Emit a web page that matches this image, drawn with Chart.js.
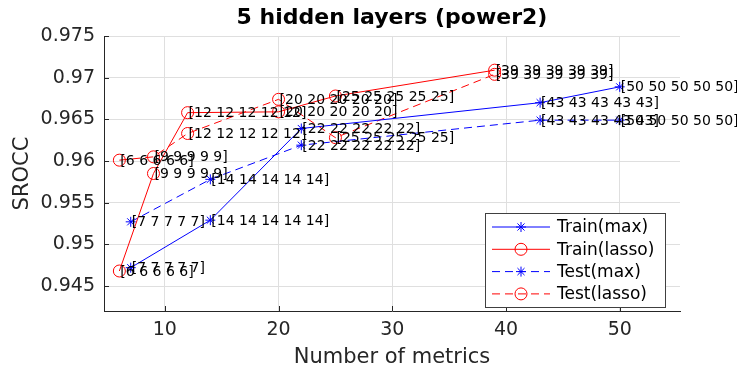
<!DOCTYPE html>
<html>
<head>
<meta charset="utf-8">
<script src="https://cdn.jsdelivr.net/npm/chart.js@4.4.1/dist/chart.umd.min.js"></script>
<style>
html,body{margin:0;padding:0;background:#fff;}
</style>
</head>
<body>
<canvas id="chart" width="737" height="372"></canvas>
<script>
// ---------- DATA ----------
const titleText = "5 hidden layers (power2)";
const xTitle = "Number of metrics";
const yTitle = "SROCC";
const seriesNames = ["Train(max)", "Train(lasso)", "Test(max)", "Test(lasso)"];

const maxX   = [7, 14, 22, 43, 50];
const lassoX = [6, 9, 12, 20, 25, 39];

const trainMax   = [0.9472, 0.9529, 0.9639, 0.9670, 0.9689];
const trainLasso = [0.9468, 0.9585, 0.9658, 0.9659, 0.9678, 0.9709];
const testMax    = [0.9527, 0.9578, 0.9619, 0.9649, 0.9649];
const testLasso  = [0.9601, 0.9605, 0.9633, 0.9674, 0.9628, 0.9704];

const xTicks = [10, 20, 30, 40, 50];
const yTicks = [0.945, 0.95, 0.955, 0.96, 0.965, 0.97, 0.975];
const yTickLabels = ["0.945", "0.95", "0.955", "0.96", "0.965", "0.97", "0.975"];

// ---------- HELPERS ----------
const FONT = '"DejaVu Sans", sans-serif';
const AXIS = "#262626";
Chart.defaults.font.family = FONT;

function pts(xs, ys){
    return xs.map((x,i)=>({x:x, y:ys[i]}));
}

function series(name, xs, ys, color, dashed, marker){
    return {
        label:name,
        data:pts(xs, ys),
        showLine:true,
        borderColor:color,
        borderWidth:1,
        borderDash:dashed ? [8,5] : [],
        pointStyle:marker,
        pointRadius:marker === "star" ? 5 : 6,
        pointBorderColor:color,
        pointBackgroundColor:"rgba(0,0,0,0)",
        pointBorderWidth:1,
        tension:0
    };
}

function drawMarker(ctx, style, x, y, color){
    ctx.strokeStyle = color;
    ctx.lineWidth = 1;
    ctx.setLineDash([]);
    ctx.beginPath();
    if(style === "star"){
        const r = 5;
        for(let k=0;k<4;k++){
            const a = k*Math.PI/4;
            ctx.moveTo(x - r*Math.cos(a), y - r*Math.sin(a));
            ctx.lineTo(x + r*Math.cos(a), y + r*Math.sin(a));
        }
    }else{
        ctx.arc(x, y, 6, 0, Math.PI*2);
    }
    ctx.stroke();
}

// ---------- PLUGINS ----------
// title centred over the plot area (matlab style)
const plotTitle = {
    id:"plotTitle",
    afterDraw(chart){
        const {ctx, chartArea:a} = chart;
        ctx.save();
        ctx.font = "bold 22px " + FONT;
        ctx.fillStyle = "#000";
        ctx.textAlign = "center";
        ctx.textBaseline = "middle";
        ctx.fillText(titleText, (a.left + a.right)/2, a.top - 18);
        ctx.restore();
    }
};

// ticks pointing inwards
const innerTicks = {
    id:"innerTicks",
    beforeDatasetsDraw(chart){
        const {ctx, chartArea:a, scales} = chart;
        ctx.save();
        ctx.strokeStyle = AXIS;
        ctx.lineWidth = 1;
        ctx.beginPath();
        xTicks.forEach(v=>{
            const px = Math.round(scales.x.getPixelForValue(v)) + 0.5;
            ctx.moveTo(px, a.bottom);
            ctx.lineTo(px, a.bottom - 5);
        });
        yTicks.forEach(v=>{
            const py = Math.round(scales.y.getPixelForValue(v)) + 0.5;
            ctx.moveTo(a.left, py);
            ctx.lineTo(a.left + 5, py);
        });
        ctx.stroke();
        ctx.restore();
    }
};

// "[n n n n n]" text next to every point
const pointLabels = {
    id:"pointLabels",
    afterDatasetsDraw(chart){
        const ctx = chart.ctx;
        ctx.save();
        ctx.font = "14px " + FONT;
        ctx.fillStyle = "#000";
        ctx.textAlign = "left";
        ctx.textBaseline = "middle";
        chart.data.datasets.forEach((ds, di)=>{
            chart.getDatasetMeta(di).data.forEach((el, i)=>{
                const n = ds.data[i].x;
                ctx.fillText("[" + [n,n,n,n,n].join(" ") + "]", el.x + 1, el.y + 1);
            });
        });
        ctx.restore();
    }
};

// legend box in the lower right corner
const boxLegend = {
    id:"boxLegend",
    afterDraw(chart){
        const {ctx, chartArea:a} = chart;
        const w = 180, h = 94;
        const left = a.right - 15 - w;
        const top = a.bottom - 4 - h;
        ctx.save();
        ctx.fillStyle = "#fff";
        ctx.fillRect(left, top, w, h);
        ctx.strokeStyle = "#404040";
        ctx.lineWidth = 1;
        ctx.strokeRect(Math.round(left) + 0.5, Math.round(top) + 0.5, w, h);
        ctx.font = "17px " + FONT;
        ctx.textBaseline = "middle";
        ctx.textAlign = "left";
        chart.data.datasets.forEach((ds, i)=>{
            const y = top + 14 + i*22.3;
            ctx.strokeStyle = ds.borderColor;
            ctx.lineWidth = 1;
            ctx.setLineDash(ds.borderDash);
            ctx.beginPath();
            ctx.moveTo(left + 7, y);
            ctx.lineTo(left + 65, y);
            ctx.stroke();
            drawMarker(ctx, ds.pointStyle, left + 36, y, ds.borderColor);
            ctx.fillStyle = "#000";
            ctx.fillText(ds.label, left + 72, y + 1);
        });
        ctx.restore();
    }
};

// ---------- CHART ----------
new Chart(document.getElementById("chart"), {
    type:"scatter",
    data:{
        datasets:[
            series(seriesNames[0], maxX, trainMax, "#0000ff", false, "star"),
            series(seriesNames[1], lassoX, trainLasso, "#ff0000", false, "circle"),
            series(seriesNames[2], maxX, testMax, "#0000ff", true, "star"),
            series(seriesNames[3], lassoX, testLasso, "#ff0000", true, "circle")
        ]
    },
    options:{
        responsive:false,
        animation:false,
        devicePixelRatio:1,
        layout:{ padding:{ left:0, right:57, top:36, bottom:0 } },
        plugins:{
            legend:{ display:false },
            tooltip:{ enabled:false },
            title:{ display:false }
        },
        scales:{
            x:{
                type:"linear",
                min:4.65,
                max:55.3,
                afterBuildTicks:s=>{ s.ticks = xTicks.map(v=>({value:v})); },
                afterFit:s=>{ s.height = 61; },
                ticks:{ color:AXIS, font:{ size:19 }, padding:8, maxRotation:0 },
                grid:{ color:"#dfdfdf", drawTicks:false },
                border:{ color:AXIS, width:1 },
                title:{ display:true, text:xTitle, color:AXIS, font:{ size:21 }, padding:{ top:0, bottom:2 } }
            },
            y:{
                type:"linear",
                min:0.942,
                max:0.975,
                afterBuildTicks:s=>{ s.ticks = yTicks.map(v=>({value:v})); },
                afterFit:s=>{ s.width = 104; },
                ticks:{ color:AXIS, font:{ size:19 }, padding:9, callback:(v,i)=>yTickLabels[i] },
                grid:{ color:"#dfdfdf", drawTicks:false },
                border:{ color:AXIS, width:1 },
                title:{ display:true, text:yTitle, color:AXIS, font:{ size:21 }, padding:{ top:10, bottom:0 } }
            }
        }
    },
    plugins:[plotTitle, innerTicks, pointLabels, boxLegend]
});
</script>
</body>
</html>
